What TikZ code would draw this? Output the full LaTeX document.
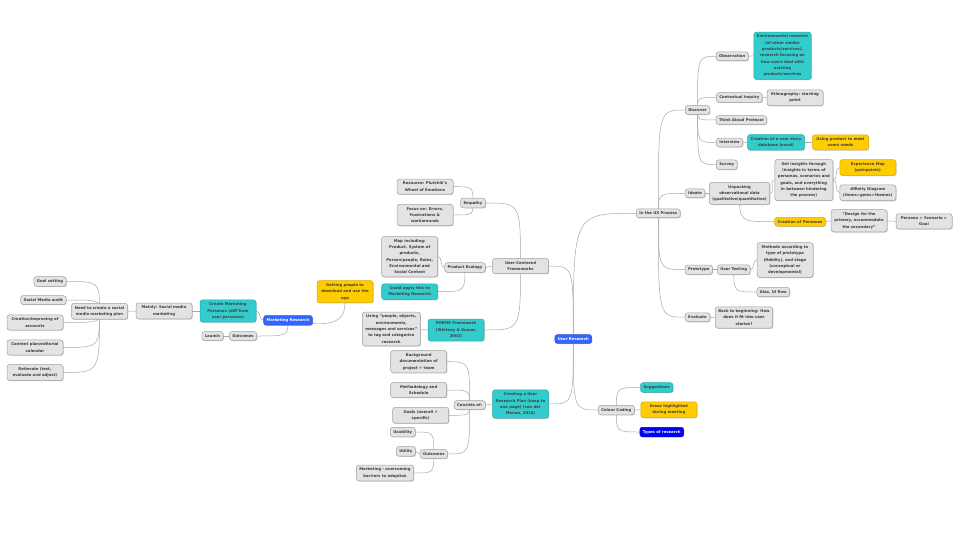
\documentclass[tikz,border=0pt]{standalone}
\usepackage{fontspec}
\setmainfont{DejaVu Sans}
\usetikzlibrary{backgrounds,shadows}
\definecolor{gfill}{HTML}{E3E3E3}
\definecolor{gdraw}{HTML}{A0A0A0}
\definecolor{gtext}{HTML}{3C3C3C}
\definecolor{tfill}{HTML}{33CCCC}
\definecolor{tdraw}{HTML}{29AAAA}
\definecolor{yfill}{HTML}{FFCC00}
\definecolor{ydraw}{HTML}{DDAA00}
\definecolor{bfill}{HTML}{3366FF}
\definecolor{bdraw}{HTML}{2A55D5}
\definecolor{dbfill}{HTML}{0000EE}
\definecolor{conncol}{HTML}{A8A8A8}
\newcommand\cnR[2]{\draw[conn] (#1.center) .. controls (#1.center |- #2.west) .. (#2.west);}
\newcommand\cnL[2]{\draw[conn] (#1.center) .. controls (#1.center |- #2.east) .. (#2.east);}
\newcommand\snR[2]{\draw[conn] (#1.east) to[out=0,in=180] (#2.west);}
\newcommand\snL[2]{\draw[conn] (#1.west) to[out=180,in=0] (#2.east);}
\tikzset{
  topic/.style={draw=gdraw, fill=gfill, text=gtext, rounded corners=2.5pt, line width=0.5pt,
    inner xsep=3pt, inner ysep=2.9pt, align=center,
    font=\bfseries\fontsize{3.8}{6.3}\selectfont,
    drop shadow={shadow xshift=0.7pt, shadow yshift=-0.7pt, opacity=0.35, fill=black!60}},
  wide/.style={minimum width=56pt},
  tealbox/.style={fill=tfill, draw=tdraw, text=black!75},
  yellowbox/.style={fill=yfill, draw=ydraw, text=black!75},
  bluebox/.style={fill=bfill, draw=bdraw, text=white},
  navybox/.style={fill=dbfill, draw=dbfill!80!black, text=white},
  conn/.style={draw=conncol, line width=0.5pt}
}
\begin{document}
\begin{tikzpicture}[x=1pt,y=-1pt]
\useasboundingbox (0,0) rectangle (960,540);

% ---------- left cluster ----------
\node[topic] (goal) at (50,281.5) {Goal setting};
\node[topic] (audit) at (43.3,300) {Social Media audit};
\node[topic,wide] (accounts) at (35,322.5) {Creation/improving of\\accounts};
\node[topic,wide] (content) at (35,347.5) {Content plan/editorial\\calendar};
\node[topic,wide] (reiterate) at (35,372.5) {Reiterate (test,\\evaluate and adjust)};
\node[topic,wide] (needplan) at (99.5,311.3) {Need to create a social\\media marketing plan};
\node[topic,wide] (mainly) at (164,311) {Mainly: Social media\\marketing};
\node[topic,wide,tealbox] (cmp) at (228,311) {Create Marketing\\Personas (diff from\\user personas)};
\node[topic,bluebox] (mr) at (288,320.3) {Marketing Research};
\node[topic] (launch) at (212.5,336) {Launch};
\node[topic] (mrout) at (243,336) {Outcomes};
\node[topic,wide,yellowbox] (getting) at (345,291.7) {Getting people to\\download and use the\\app};

% ---------- user-centered frameworks ----------
\node[topic,wide] (plutchik) at (425,186.7) {Resource: Plutchik's\\Wheel of Emotions};
\node[topic] (empathy) at (473,203) {Empathy};
\node[topic,wide] (focus) at (425,215) {Focus on: Errors,\\frustrations \&\\workarounds};
\node[topic,wide] (mapinc) at (409.7,256.7) {Map including:\\Product, System of\\products,\\Person/people, Roles,\\Environmental and\\Social Context};
\node[topic] (ecology) at (465,267.5) {Product Ecology};
\node[topic,wide] (ucf) at (520.5,266) {User-Centered\\Frameworks};
\node[topic,wide,tealbox] (could) at (409.7,291.7) {Could apply this to\\Marketing Research};
\node[topic,wide] (using) at (391.3,329) {Using "people, objects,\\environments,\\messages and services"\\to tag and categorise\\research};
\node[topic,wide,tealbox] (poems) at (456,330) {POEMS Framework\\(Whitney \& Kumar,\\2003)};

% ---------- research plan ----------
\node[topic,wide] (background) at (418.7,361.7) {Background\\documentation of\\project + team};
\node[topic,wide] (method) at (418.7,390) {Methodology and\\Schedule};
\node[topic,wide] (goals) at (420.7,415.3) {Goals (overall +\\specific)};
\node[topic] (consists) at (469.7,405) {Consists of:};
\node[topic,wide,tealbox] (plan) at (520.5,404) {Creating a User\\Research Plan (keep to\\one page) (van der\\Merwe, 2015)};
\node[topic] (usability) at (402.8,432) {Usability};
\node[topic] (utility) at (405.8,451.3) {Utility};
\node[topic] (planout) at (433.8,454) {Outcomes};
\node[topic,wide] (barriers) at (385,473) {Marketing - overcoming\\barriers to adoption};

% ---------- root ----------
\node[topic,bluebox] (ur) at (573.3,339) {User Research};
\node[topic] (colour) at (616.3,410) {Colour Coding};
\node[topic,tealbox] (sugg) at (656.7,387.5) {Suggestions};
\node[topic,wide,yellowbox] (areas) at (668.8,409.7) {Areas highlighted\\during meeting};
\node[topic,navybox] (types) at (661.7,432) {Types of research};

% ---------- UX process ----------
\node[topic] (ux) at (658.3,213.3) {In the UX Process};
\node[topic] (discover) at (697.5,110) {Discover};
\node[topic] (observation) at (732.2,56.3) {Observation};
\node[topic,wide,tealbox] (envres) at (782.5,55.8) {Environmental research\\(of other similar\\products/services),\\research focusing on\\how users deal with\\existing\\products/services};
\node[topic] (contextual) at (739.3,97.5) {Contextual Inquiry};
\node[topic,wide] (ethno) at (795,97.7) {Ethnography: starting\\point};
\node[topic] (think) at (741.3,120) {Think Aloud Protocol};
\node[topic] (interview) at (729.5,142.5) {Interview};
\node[topic,wide,tealbox] (userstory) at (776,142.3) {Creation of a user story\\database (excel)};
\node[topic,wide,yellowbox] (usingprod) at (840.5,142.3) {Using product to meet\\users needs};
\node[topic] (survey) at (726.7,164.7) {Survey};
\node[topic] (ideate) at (695,193.3) {Ideate};
\node[topic,wide] (unpack) at (739.5,193.3) {Unpacking\\observational data\\(qualitative/quantitative)};
\node[topic,wide] (insights) at (803.8,180) {Get insights through\\(insights in terms of\\personas, scenarios and\\goals, and everything\\in between hindering\\the process)};
\node[topic,wide,yellowbox] (expmap) at (867.8,167.5) {Experience Map\\(painpoints)};
\node[topic,wide] (affinity) at (867.8,192.7) {Affinity Diagram\\(items>gems>themes)};
\node[topic,yellowbox] (personas) at (800,221.7) {Creation of Personas};
\node[topic,wide] (design) at (859,220.8) {“Design for the\\primary, accommodate\\the secondary”};
\node[topic,wide] (psg) at (924,221.3) {Persona > Scenario >\\Goal};
\node[topic] (prototype) at (698.7,269.7) {Prototype};
\node[topic] (testing) at (733.7,269.7) {User Testing};
\node[topic,wide] (methods) at (785,260) {Methods according to\\type of prototype\\(fidelity), and stage\\(conceptual or\\developmental)};
\node[topic] (uiflow) at (773.3,292) {Also, UI flow};
\node[topic] (evaluate) at (697.5,317.2) {Evaluate};
\node[topic,wide] (back) at (744,317.5) {Back to beginning: How\\does it fit into user\\stories?};

% ---------- connectors ----------
\begin{scope}[on background layer]
\fill[white] (0,0) rectangle (960,540);
\cnL{needplan}{goal} \cnL{needplan}{audit} \cnL{needplan}{accounts}
\cnL{needplan}{content} \cnL{needplan}{reiterate}
\snL{mainly}{needplan}
\snL{cmp}{mainly}
\snL{mr}{cmp}
\cnL{mr}{mrout}
\snL{mrout}{launch}
\draw[conn] (mr.center) .. controls (338,330) and (345,318) .. (getting.south);

\cnL{ur}{ucf} \cnL{ur}{plan} \cnR{ur}{ux} \cnR{ur}{colour}

\cnL{ucf}{empathy} \snL{ucf}{ecology} \cnL{ucf}{poems}
\cnL{empathy}{plutchik} \cnL{empathy}{focus}
\snL{ecology}{mapinc} \cnL{ecology}{could}
\snL{poems}{using}

\snL{plan}{consists}
\cnL{consists}{background} \cnL{consists}{method} \cnL{consists}{goals} \cnL{consists}{planout}
\cnL{planout}{usability} \snL{planout}{utility} \cnL{planout}{barriers}

\cnR{colour}{sugg} \snR{colour}{areas} \cnR{colour}{types}

\cnR{ux}{discover} \cnR{ux}{ideate} \cnR{ux}{prototype} \cnR{ux}{evaluate}
\cnR{discover}{observation} \cnR{discover}{contextual} \cnR{discover}{think}
\cnR{discover}{interview} \cnR{discover}{survey}
\snR{observation}{envres} \snR{contextual}{ethno}
\snR{interview}{userstory} \snR{userstory}{usingprod}
\snR{ideate}{unpack} \snR{unpack}{insights} \cnR{unpack}{personas}
\snR{insights}{expmap} \snR{insights}{affinity}
\snR{personas}{design} \snR{design}{psg}
\snR{prototype}{testing} \snR{testing}{methods} \cnR{testing}{uiflow}
\snR{evaluate}{back}
\end{scope}
\end{tikzpicture}
\end{document}
